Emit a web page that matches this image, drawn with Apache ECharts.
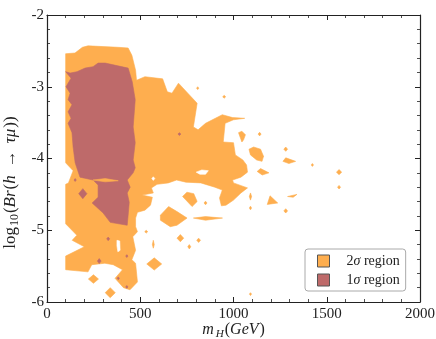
<!DOCTYPE html>
<html><head><meta charset="utf-8">
<script src="https://cdn.jsdelivr.net/npm/echarts@6/dist/echarts.min.js"></script>
<style>html,body{margin:0;padding:0;background:#fff}#c{width:436px;height:339px}</style>
</head><body><div id="c"></div>
<script>
// axis ranges / ticks
const xRange = [0, 2000];
const yRange = [-6, -2];
const legendNames = ['2σ region', '1σ region'];

// 2σ region: main contour (m_H GeV, log10 Br)
const orangeMain = [[100,-2.54],[150,-2.53],[190,-2.45],[220,-2.43],[380,-2.45],[435,-2.46],[455,-2.56],[475,-2.77],[480,-2.91],[525,-2.86],[620,-2.89],[645,-3.07],[670,-3.09],[705,-2.95],[755,-3.09],[805,-3.23],[785,-3.56],[810,-3.60],[850,-3.51],[940,-3.39],[995,-3.43],[1060,-3.44],[1000,-3.46],[955,-3.51],[945,-3.77],[1000,-3.78],[1010,-3.95],[1050,-4.02],[1070,-4.09],[1075,-4.19],[1040,-4.26],[995,-4.30],[1000,-4.34],[1075,-4.41],[1040,-4.48],[1000,-4.58],[960,-4.65],[935,-4.66],[925,-4.55],[940,-4.44],[900,-4.40],[825,-4.34],[745,-4.33],[695,-4.30],[650,-4.34],[590,-4.36],[560,-4.41],[570,-4.48],[510,-4.51],[565,-4.54],[555,-4.65],[525,-4.72],[485,-4.75],[475,-4.83],[475,-4.95],[485,-5.02],[460,-5.09],[475,-5.28],[455,-5.41],[475,-5.46],[485,-5.72],[445,-5.83],[410,-5.80],[365,-5.67],[405,-5.55],[355,-5.48],[310,-5.46],[240,-5.48],[220,-5.58],[100,-5.55],[100,-5.36],[200,-5.23],[135,-5.14],[160,-5.07],[100,-4.91],[100,-4.36],[115,-4.34],[140,-4.17],[100,-4.06]];
// 2σ region: detached islands
const orangeIsland1 = [[1027,-3.64],[1045,-3.62],[1064,-3.67],[1054,-3.74],[1045,-3.77]];
const orangeIsland2 = [[1083,-3.87],[1108,-3.84],[1145,-3.87],[1161,-3.97],[1153,-4.04],[1124,-4.02],[1091,-3.95]];
const orangeIsland3 = [[1265,-4.04],[1280,-3.99],[1333,-4.04],[1297,-4.07]];
const orangeIsland4 = [[1127,-4.18],[1145,-4.14],[1190,-4.20],[1154,-4.23]];
const orangeIsland5 = [[1091,-4.48],[1097,-4.53],[1091,-4.58],[1085,-4.53]];
const orangeIsland6 = [[1196,-4.52],[1237,-4.62],[1181,-4.64]];
const orangeIsland7 = [[1290,-4.53],[1340,-4.50],[1320,-4.54]];
const orangeIsland8 = [[785,-4.83],[850,-4.81],[941,-4.83],[850,-4.86]];
const orangeIsland9 = [[727,-4.53],[750,-4.47],[787,-4.49],[805,-4.60],[778,-4.67]];
const orangeIsland10 = [[608,-4.79],[652,-4.67],[697,-4.74],[751,-4.83],[697,-4.93],[661,-4.95],[608,-4.86]];
const orangeIsland11 = [[570,-5.14],[575,-5.20],[570,-5.25],[565,-5.20]];
// 2σ small spots: [centre m_H, centre log10 Br, half-width, half-height]
const orangeSpots = [[950,-3.14,8,0.02],[808,-3.02,6,0.02],[1140,-3.66,8,0.025],[1280,-3.87,10,0.03],[1423,-4.09,6,0.02],[1566,-4.19,14,0.035],[1566,-4.40,8,0.025],[1091,-4.69,6,0.025],[1280,-4.73,10,0.03],[850,-4.62,8,0.025],[715,-5.11,18,0.05],[813,-5.14,10,0.03],[763,-5.23,8,0.03],[532,-5.02,8,0.02],[575,-5.47,40,0.085],[249,-5.68,27,0.06],[339,-5.87,27,0.07],[1091,-5.89,6,0.02]];
// gaps inside the 2σ region
const gap1 = [[800,-4.19],[830,-4.16],[865,-4.17],[850,-4.22],[820,-4.22]];
const gap2 = [[562,-4.28],[570,-4.255],[578,-4.28],[570,-4.305]];
const gap3 = [[375,-5.14],[390,-5.15],[392,-5.28],[380,-5.30],[375,-5.22]];
// 2σ sliver inside 1σ
const orangeSliver = [[247,-4.30],[312,-4.28],[382,-4.31],[312,-4.325]];

// 1σ region main contour
const redMain = [[100,-2.79],[124,-2.81],[161,-2.79],[204,-2.74],[247,-2.72],[274,-2.67],[312,-2.67],[435,-2.74],[457,-2.93],[473,-3.18],[462,-3.56],[473,-3.78],[462,-4.02],[473,-4.13],[462,-4.20],[430,-4.30],[446,-4.40],[430,-4.48],[441,-4.61],[435,-4.79],[430,-4.93],[339,-4.89],[301,-4.76],[242,-4.62],[274,-4.54],[274,-4.37],[247,-4.30],[177,-4.26],[151,-4.06],[140,-3.84],[134,-3.64],[113,-3.51],[129,-3.44],[113,-3.35],[134,-3.25],[113,-3.18],[124,-3.09],[102,-3.00],[129,-2.88]];
// 1σ small spots
const redSpots = [[710,-3.66,8,0.02],[192,-4.49,22,0.07],[151,-4.30,6,0.02],[328,-5.12,8,0.025],[428,-5.36,6,0.02],[280,-5.43,10,0.035],[382,-5.67,6,0.02],[428,-5.79,6,0.02]];

const ORANGE = '#feae4f', RED = '#be6a6a';
const FONT = 'Liberation Serif';

function diamond(s){ return [[s[0]-s[2],s[1]],[s[0],s[1]+s[3]],[s[0]+s[2],s[1]],[s[0],s[1]-s[3]]]; }

const orangeShapes = [orangeMain, orangeIsland1, orangeIsland2, orangeIsland3, orangeIsland4, orangeIsland5, orangeIsland6, orangeIsland7, orangeIsland8, orangeIsland9, orangeIsland10, orangeIsland11].concat(orangeSpots.map(diamond));
const gapShapes = [gap1, gap2, gap3];
const redShapes = [redMain].concat(redSpots.map(diamond));

function polySeries(name, shapes, color, z){
  return {
    type:'custom', name: name, coordinateSystem:'cartesian2d', z: z,
    silent:true, animation:false, clip:true,
    itemStyle:{color: color},
    data: shapes.map(s => s[0]),
    renderItem: function(params, api){
      const pts = shapes[params.dataIndex].map(p => api.coord(p));
      return {type:'polygon', shape:{points:pts}, style:{fill:color, stroke:color, lineWidth:0.6}};
    }
  };
}

const axisCommon = {
  type:'value',
  axisLine:{show:true, onZero:false, lineStyle:{color:'#222', width:1.2}},
  axisTick:{show:true, inside:true, length:5, lineStyle:{color:'#222', width:1}},
  minorTick:{show:true, splitNumber:5, length:3, lineStyle:{color:'#222', width:0.8}},
  splitLine:{show:false}, minorSplitLine:{show:false}
};
function richSet(fs, arrowPad){
  return {
    n:{fontFamily:FONT, fontSize:fs, color:'#222', lineHeight:20, verticalAlign:'middle'},
    i:{fontFamily:FONT, fontSize:fs, fontStyle:'italic', color:'#222', lineHeight:20, verticalAlign:'middle', padding:[0,1,0,0]},
    s:{fontFamily:FONT, fontSize:fs*0.7, color:'#222', lineHeight:11, verticalAlign:'bottom', padding:[0,1,0,1]},
    si:{fontFamily:FONT, fontSize:fs*0.7, fontStyle:'italic', color:'#222', lineHeight:11, verticalAlign:'bottom', padding:[0,1,0,1]},
    ar:{fontFamily:FONT, fontSize:fs, color:'#222', lineHeight:20, verticalAlign:'middle', padding:[0,arrowPad,0,arrowPad]}
  };
}
const tickFmt = v => String(v);

const option = {
  backgroundColor:'#fff',
  animation:false,
  grid:{left:47, right:16, top:15, bottom:37, outerBoundsMode:'none', containLabel:false},
  xAxis:[
    Object.assign({}, axisCommon, {min:xRange[0], max:xRange[1], interval:500, position:'bottom',
      axisLabel:{fontFamily:FONT, fontSize:15, color:'#222', margin:5, formatter:tickFmt},
      name:'{i|m}{si|H}{n|(}{i|GeV}{n|)}', nameLocation:'middle', nameGap:18, nameMoveOverlap:false,
      nameTextStyle:{rich:richSet(16, 5)}}),
    Object.assign({}, axisCommon, {min:xRange[0], max:xRange[1], interval:500, position:'top', axisLabel:{show:false}})
  ],
  yAxis:[
    Object.assign({}, axisCommon, {min:yRange[0], max:yRange[1], interval:1, position:'left',
      axisLabel:{fontFamily:FONT, fontSize:15, color:'#222', margin:3, formatter:tickFmt},
      name:'{n|log}{s|10}{n|(}{i|Br}{n|(}{i|h}{ar|→}{i|τμ}{n|))}', nameLocation:'middle', nameGap:26, nameRotate:90, nameMoveOverlap:false,
      nameTextStyle:{rich:richSet(17, 7), padding:[0,48,0,0]}}),
    Object.assign({}, axisCommon, {min:yRange[0], max:yRange[1], interval:1, position:'right', axisLabel:{show:false}})
  ],
  legend:{
    data:[
      {name:legendNames[0], icon:'rect', itemStyle:{color:ORANGE, borderColor:'#555', borderWidth:1}},
      {name:legendNames[1], icon:'rect', itemStyle:{color:RED, borderColor:'#555', borderWidth:1}}
    ],
    orient:'vertical', left:305, top:249,
    backgroundColor:'#fff', borderColor:'#aaa', borderWidth:1, borderRadius:3,
    padding:[5,6,4,12], itemWidth:12, itemHeight:12, itemGap:5, selectedMode:false,
    formatter: function(n){ return n === legendNames[0] ? '{a|2}{b|σ}{a| region}' : '{a|1}{b|σ}{a| region}'; },
    textStyle:{padding:[0,0,0,12], rich:{
      a:{fontFamily:FONT, fontSize:14, color:'#222'},
      b:{fontFamily:FONT, fontSize:14, fontStyle:'italic', color:'#222'}}}
  },
  series:[
    polySeries(legendNames[0], orangeShapes, ORANGE, 1),
    polySeries('gaps', gapShapes, '#ffffff', 2),
    polySeries(legendNames[1], redShapes, RED, 3),
    polySeries(legendNames[0], [orangeSliver], ORANGE, 4)
  ]
};
const chart = echarts.init(document.getElementById('c'), null, {renderer:'canvas'});
chart.setOption(option);
</script></body></html>
